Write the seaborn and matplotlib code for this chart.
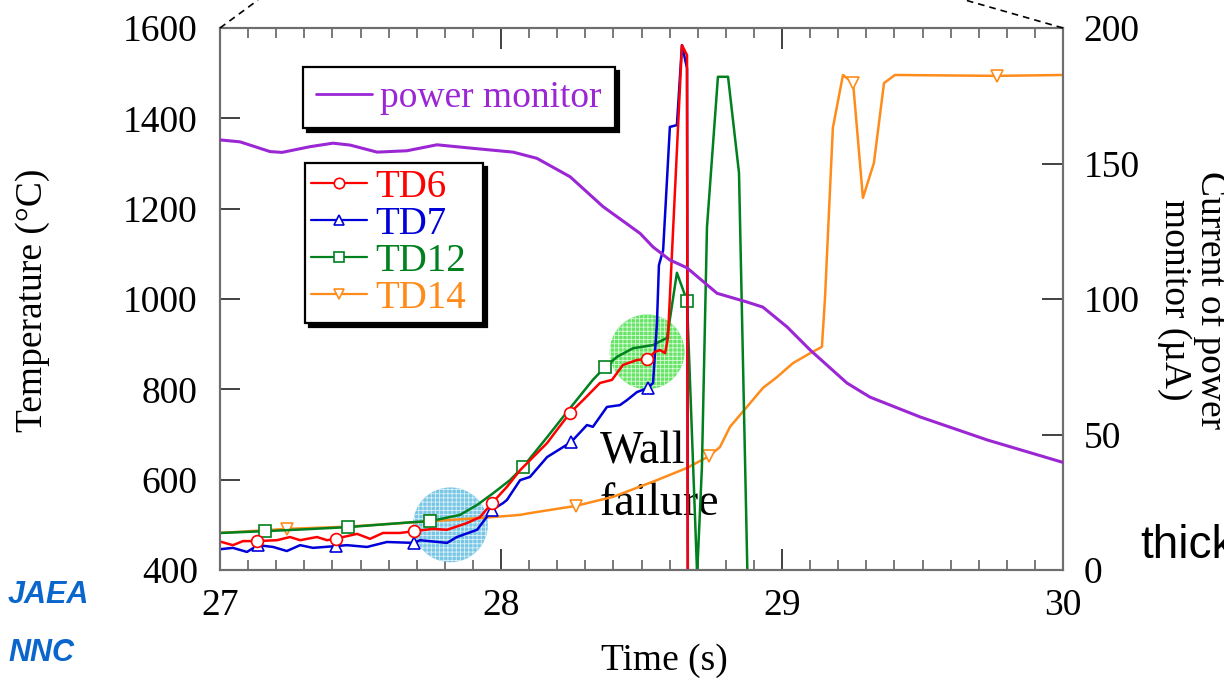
import matplotlib
matplotlib.use("Agg")
import matplotlib.pyplot as plt
from matplotlib.lines import Line2D
import seaborn as sns

# ---------------- data ----------------
# TD6 thermocouple (deg C)
td6_time = [27.000, 27.046, 27.082, 27.132, 27.203, 27.249, 27.285, 27.345, 27.381, 27.413,
            27.438, 27.488, 27.534, 27.580, 27.641, 27.690, 27.758, 27.808, 27.879, 27.925,
            27.968, 28.021, 28.068, 28.164, 28.199, 28.246, 28.292, 28.352, 28.395, 28.434,
            28.484, 28.520, 28.548, 28.566, 28.584, 28.594, 28.644, 28.662, 28.665]
td6_temp = [463, 455, 464, 464, 466, 473, 466, 473, 466, 469,
            473, 480, 469, 482, 482, 486, 491, 489, 504, 517,
            548, 584, 621, 681, 710, 748, 776, 814, 821, 854,
            865, 867, 883, 887, 880, 914, 1562, 1540, 300]
td6_marks = [3, 9, 15, 20, 25, 31]

# TD7 thermocouple (deg C)
td7_time = [27.000, 27.046, 27.096, 27.135, 27.189, 27.238, 27.285, 27.331, 27.413, 27.452,
            27.523, 27.594, 27.690, 27.712, 27.808, 27.843, 27.915, 27.968, 28.007, 28.021,
            28.068, 28.103, 28.164, 28.249, 28.306, 28.327, 28.377, 28.423, 28.448, 28.484,
            28.523, 28.541, 28.555, 28.562, 28.577, 28.601, 28.626, 28.644, 28.662, 28.665]
td7_temp = [446, 449, 440, 455, 451, 442, 455, 449, 453, 455,
            451, 462, 460, 466, 460, 473, 489, 533, 548, 555,
            599, 606, 650, 683, 721, 717, 761, 765, 776, 794,
            803, 814, 947, 1075, 1108, 1381, 1385, 1562, 1511, 300]
td7_marks = [3, 8, 12, 17, 23, 30]

# TD12 thermocouple (deg C)
td12_time = [27.000, 27.160, 27.300, 27.456, 27.687, 27.747, 27.854, 27.915, 27.972, 28.032,
             28.078, 28.164, 28.235, 28.327, 28.370, 28.413, 28.470, 28.541, 28.591, 28.626,
             28.662, 28.698, 28.715, 28.733, 28.772, 28.808, 28.847, 28.880]
td12_temp = [482, 486, 490, 495, 506, 508, 522, 544, 570, 599,
             628, 694, 750, 821, 849, 872, 891, 898, 914, 1058,
             996, 390, 628, 1159, 1492, 1492, 1279, 300]
td12_marks = [1, 3, 5, 10, 14, 20]

# TD14 thermocouple (deg C)
td14_time = [27.000, 27.238, 27.456, 27.747, 27.925, 28.068, 28.103, 28.267, 28.399, 28.555,
             28.662, 28.740, 28.779, 28.815, 28.875, 28.932, 28.982, 29.039, 29.100, 29.142,
             29.153, 29.181, 29.217, 29.253, 29.288, 29.327, 29.363, 29.402, 29.765, 30.000]
td14_temp = [482, 491, 496, 508, 515, 522, 526, 542, 562, 599,
             626, 652, 672, 717, 761, 803, 827, 858, 880, 894,
             1002, 1379, 1496, 1478, 1224, 1301, 1478, 1496, 1494, 1496]
td14_marks = [1, 3, 7, 11, 23, 28]

# Power monitor current (uA)
pm_time = [27.000, 27.071, 27.178, 27.221, 27.320, 27.402, 27.463, 27.559, 27.665, 27.772,
           27.900, 28.043, 28.128, 28.246, 28.363, 28.495, 28.541, 28.601, 28.662, 28.769,
           28.875, 28.932, 29.018, 29.100, 29.231, 29.313, 29.491, 29.730, 30.000]
pm_current = [158.7, 158.0, 154.4, 154.1, 156.2, 157.5, 156.8, 154.2, 154.7, 156.9,
              155.6, 154.2, 151.9, 145.1, 134.1, 124.2, 119.2, 114.4, 111.5, 102.1,
              98.9, 97.0, 89.7, 81.2, 69.0, 63.8, 56.5, 48.0, 39.7]

# highlighted regions (time, temperature)
zone_blue = (27.82, 500)
zone_green = (28.52, 883)

x_ticks = [27, 28, 29, 30]
y_ticks = [400, 600, 800, 1000, 1200, 1400, 1600]
y2_ticks = [0, 50, 100, 150, 200]

# ---------------- style ----------------
RED, BLUE, GREEN, ORANGE, PURPLE = "#ff0000", "#0000d8", "#00801e", "#ff8c1a", "#9b27d4"
SPINE = "#6e6e6e"

sns.set_theme(style="white")
plt.rcParams["font.family"] = ["Liberation Serif", "DejaVu Serif"]
plt.rcParams["text.color"] = "black"
plt.rcParams["hatch.linewidth"] = 0.6

W, H = 1224, 680
fig = plt.figure(figsize=(W / 100, H / 100), dpi=100)
fig.patch.set_facecolor("white")
ax = fig.add_axes([220 / W, 1 - 570 / H, (1063 - 220) / W, (570 - 28) / H])
ax2 = ax.twinx()

# highlighted circles
sns.scatterplot(x=[zone_blue[0]], y=[zone_blue[1]], ax=ax, s=2900, color="#78c6e4",
                edgecolor="#d8f0f8", linewidth=0, hatch="++++", zorder=1, legend=False)
sns.scatterplot(x=[zone_green[0]], y=[zone_green[1]], ax=ax, s=2900, color="#66e466",
                edgecolor="#d8fad8", linewidth=0, hatch="++++", zorder=1, legend=False)

series = [
    (td14_time, td14_temp, td14_marks, ORANGE, "v", "TD14"),
    (td12_time, td12_temp, td12_marks, GREEN, "s", "TD12"),
    (td7_time, td7_temp, td7_marks, BLUE, "^", "TD7"),
    (td6_time, td6_temp, td6_marks, RED, "o", "TD6"),
]
for t, v, mk, c, m, name in series:
    sns.lineplot(x=t, y=v, ax=ax, color=c, lw=1.8, sort=False, estimator=None,
                 marker=m, markevery=mk, markersize=8.5, markerfacecolor="white",
                 markeredgecolor=c, markeredgewidth=1.2, zorder=3)

sns.lineplot(x=pm_time, y=pm_current, ax=ax2, color=PURPLE, lw=2.2, sort=False,
             estimator=None, zorder=4)

# axes ranges and ticks
ax.set_xlim(27, 30)
ax.set_ylim(400, 1600)
ax2.set_ylim(0, 200)
ax.set_xticks(x_ticks)
ax.set_xticks([27 + 0.1 * i for i in range(31)], minor=True)
ax.set_yticks(y_ticks)
ax2.set_yticks(y2_ticks)
ax.set_xlabel("")
ax.set_ylabel("")
ax2.set_xlabel("")
ax2.set_ylabel("")

ax.tick_params(axis="x", which="major", direction="in", top=True, bottom=True,
               length=15, width=1.3, color="#333333", labelsize=27, pad=13,
               labelcolor="black")
ax.tick_params(axis="x", which="minor", direction="in", top=True, bottom=True,
               length=7, width=1.1, color="#555555")
ax.tick_params(axis="y", which="major", direction="in", left=True, right=False,
               length=14.5, width=1.3, color="#333333", labelsize=27, pad=16,
               labelcolor="black")
ax2.tick_params(axis="y", which="major", direction="in", right=True, left=False,
                length=15, width=1.3, color="#333333", labelsize=27, pad=15,
                labelcolor="black")
for a in (ax, ax2):
    for sp in a.spines.values():
        sp.set_color(SPINE)
        sp.set_linewidth(1.5)
    a.grid(False)

# annotation
ax.text(0.4508, 0.257, "Wall\nfailure", transform=ax.transAxes, ha="left", va="top",
        fontsize=33, linespacing=1.3, color="black", zorder=2)

# legends
pm_handle = Line2D([], [], color=PURPLE, lw=2.0)
leg1 = ax2.legend([pm_handle], ["power monitor"], loc="upper left",
                  bbox_to_anchor=(0.0985, 0.928), borderaxespad=0, fontsize=27,
                  frameon=True, fancybox=False, framealpha=1,
                  shadow={"color": "black", "alpha": 1, "ox": 3, "oy": -3},
                  handlelength=1.5, handletextpad=0.2, borderpad=0.35,
                  labelcolor="linecolor")
leg1.get_frame().set_edgecolor("black")
leg1.get_frame().set_linewidth(1.6)
ax2.add_artist(leg1)

td_handles = [Line2D([], [], color=c, lw=1.6, marker=m, markersize=7.5,
                     markerfacecolor="white", markeredgecolor=c, markeredgewidth=1.2)
              for _, _, _, c, m, _ in series[::-1]]
td_labels = [name for *_, name in series[::-1]]
leg2 = ax2.legend(td_handles, td_labels, loc="upper left",
                  bbox_to_anchor=(0.1008, 0.751, 0.211, 0.0), mode="expand",
                  borderaxespad=0, fontsize=28,
                  frameon=True, fancybox=False, framealpha=1,
                  shadow={"color": "black", "alpha": 1, "ox": 3, "oy": -3},
                  handlelength=1.45, handletextpad=0.2, borderpad=0.15,
                  labelspacing=0.0, labelcolor="linecolor")
leg2.get_frame().set_edgecolor("black")
leg2.get_frame().set_linewidth(1.6)

# axis titles
fig.text(33 / W, 1 - 300 / H, "Temperature (°C)", rotation=90, ha="center", va="center",
         fontsize=27)
fig.text(664 / W, 1 - 661 / H, "Time (s)", ha="center", va="center", fontsize=27)
fig.text(1193 / W, 1 - 300 / H, "Current of power\nmonitor (µA)", rotation=270,
         ha="center", va="center", fontsize=27, linespacing=1.05)

# side labels
fig.text(8 / W, 1 - 595 / H, "JAEA", ha="left", va="center", fontsize=22,
         family=["Liberation Sans", "DejaVu Sans"], fontstyle="italic", fontweight="bold",
         color="#0a66cc")
fig.text(8 / W, 1 - 653 / H, "NNC", ha="left", va="center", fontsize=22,
         family=["Liberation Sans", "DejaVu Sans"], fontstyle="italic", fontweight="bold",
         color="#0a66cc")
fig.text(1140 / W, 1 - 546 / H, "thickness", ha="left", va="center", fontsize=33,
         family=["Liberation Sans", "DejaVu Sans"], color="black")

# dashed guide lines above the frame
fig.add_artist(Line2D([220 / W, 258 / W], [1 - 28 / H, 1.0], transform=fig.transFigure,
                      color="black", lw=1.2, ls=(0, (4, 3))))
fig.add_artist(Line2D([1063 / W, 965 / W], [1 - 28 / H, 1.0], transform=fig.transFigure,
                      color="black", lw=1.2, ls=(0, (4, 3))))

fig.savefig("out.png", dpi=100, facecolor="white")
